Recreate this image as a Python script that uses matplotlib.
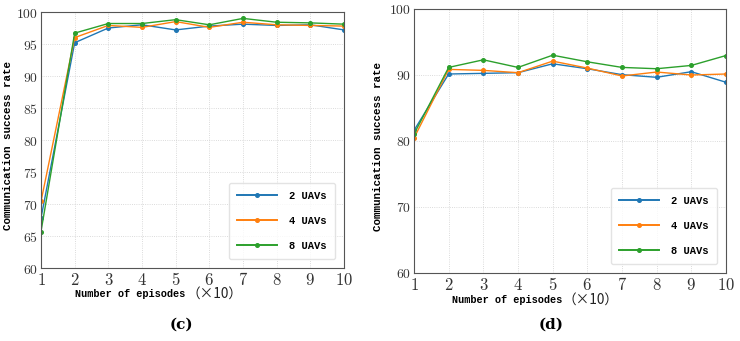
import matplotlib
matplotlib.use("Agg")
import matplotlib.pyplot as plt
from matplotlib.ticker import FuncFormatter, MultipleLocator

plt.rcParams['mathtext.fontset'] = 'cm'

episodes = [1, 2, 3, 4, 5, 6, 7, 8, 9, 10]
series_names = ["2 UAVs", "4 UAVs", "8 UAVs"]

c_2uav = [67.8, 95.2, 97.5, 98.0, 97.2, 97.8, 98.1, 97.9, 98.0, 97.2]
c_4uav = [70.4, 96.0, 97.9, 97.6, 98.5, 97.6, 98.4, 98.0, 97.9, 97.8]
c_8uav = [65.7, 96.7, 98.2, 98.2, 98.8, 98.0, 99.0, 98.4, 98.3, 98.1]

d_2uav = [81.6, 90.15, 90.25, 90.35, 91.7, 90.95, 90.05, 89.65, 90.5, 88.9]
d_4uav = [80.45, 90.85, 90.7, 90.35, 92.1, 91.05, 89.85, 90.45, 90.0, 90.15]
d_8uav = [81.05, 91.15, 92.3, 91.15, 93.0, 92.0, 91.15, 90.95, 91.45, 92.95]

xlabel_main = 'Number of episodes'
xlabel_unit = '（×10）'
ylabel = 'Communication success rate'

colors = ['#1f77b4', '#ff7f0e', '#2ca02c']
mono = ['Liberation Mono', 'Noto Sans CJK SC']
cjk = ['Noto Sans CJK SC', 'DejaVu Sans']

fig = plt.figure(figsize=(7.40, 3.41), dpi=100)
W, H = 740, 341
ax1 = fig.add_axes([41 / W, 1 - 268 / H, (344 - 41) / W, (268 - 12) / H])
ax2 = fig.add_axes([414 / W, 1 - 273 / H, (726 - 414) / W, (273 - 9) / H])

fmt = FuncFormatter(lambda v, p: r'$%d$' % round(v))

for ax, data, step, lab, cx, ylx, anchor, xl in [
    (ax1, [c_2uav, c_4uav, c_8uav], 5, '(c)', 0.465, -0.092, (0.970, 0.035), (185, 294)),
    (ax2, [d_2uav, d_4uav, d_8uav], 10, '(d)', 0.44, -0.099, (0.971, 0.034), (562, 300)),
]:
    for vals, name, col in zip(data, series_names, colors):
        ax.plot(episodes, vals, color=col, lw=1.0, marker='o', ms=2.6, label=name)
    ax.set_xlim(1, 10)
    ax.set_ylim(60, 100)
    ax.xaxis.set_major_locator(MultipleLocator(1))
    ax.yaxis.set_major_locator(MultipleLocator(step))
    ax.xaxis.set_major_formatter(fmt)
    ax.yaxis.set_major_formatter(fmt)
    ax.tick_params(axis='x', labelsize=12, length=0, pad=2, colors='#333333')
    ax.tick_params(axis='y', labelsize=9.8, length=0, pad=2, colors='#333333')
    ax.grid(True, color='#cfcfcf', lw=0.6, ls=':')
    for s in ax.spines.values():
        s.set_color('#555555')
        s.set_linewidth(0.8)
    ax.set_ylabel(ylabel, family=mono, fontsize=7.8, fontweight='bold')
    ax.yaxis.set_label_coords(ylx, 0.48)
    # x label: monospace words plus full-width unit part
    fig.text(xl[0] / W, 1 - xl[1] / H, xlabel_main, ha='right', va='center',
             family=mono, fontsize=7.4, fontweight='bold')
    fig.text((xl[0] + 1) / W, 1 - xl[1] / H, xlabel_unit, ha='left', va='center',
             family=cjk, fontsize=9.8, color='#222222')
    leg = ax.legend(loc='lower right', prop={'family': mono, 'size': 7.6, 'weight': 'bold'},
                    labelspacing=1.4, handlelength=3.8, handletextpad=1.1,
                    borderpad=0.8, borderaxespad=0,
                    frameon=True, fancybox=True, bbox_to_anchor=anchor)
    leg.get_frame().set_edgecolor('#dddddd')
    for h in leg.get_lines():
        h.set_linewidth(1.4)
    bb = ax.get_position()
    fig.text(bb.x0 + cx * bb.width, 1 - 325 / H, lab, ha='center', va='center',
             family='DejaVu Serif', fontweight='bold', fontsize=11)

fig.savefig('out.png', dpi=100)
